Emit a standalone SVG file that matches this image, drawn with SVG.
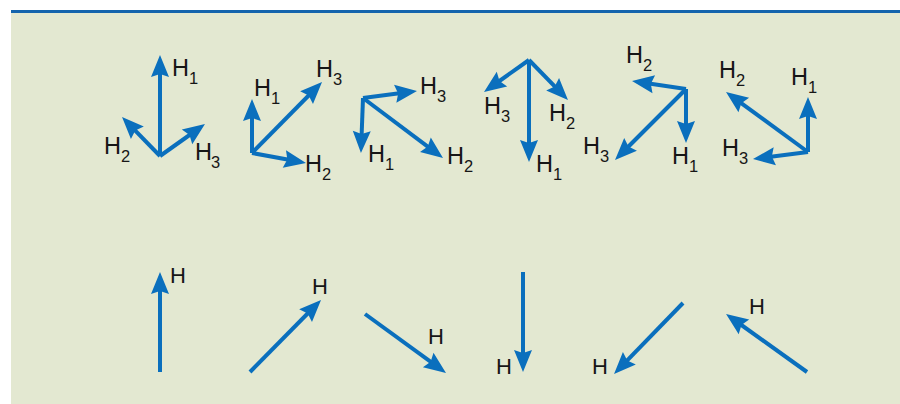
<svg xmlns="http://www.w3.org/2000/svg" width="900" height="404" viewBox="0 0 900 404">
<style>
.ar{stroke:#0a6fbd;stroke-width:4;fill:none;marker-end:url(#ah)}
.t{font-family:"Liberation Sans",Arial,sans-serif;font-size:23.5px;fill:#161616}
.s{font-size:16.5px}
.b{font-family:"Liberation Sans",Arial,sans-serif;font-size:22px;fill:#161616}
</style>
<defs>
<marker id="ah" markerUnits="userSpaceOnUse" viewBox="-12 -10 26 20" markerWidth="26" markerHeight="20" refX="0" refY="0" orient="auto">
<path d="M12,0 L-10,-9 L-7,0 L-10,9 Z" fill="#0a6fbd"/>
</marker>
</defs>
<rect x="11" y="10" width="889" height="394" fill="#e3e8d1"/>
<rect x="11" y="10" width="889" height="3" fill="#1464ad"/>

<g id="set1">
<line class="ar" x1="160" y1="156" x2="160" y2="67"/>
<line class="ar" x1="160" y1="156" x2="130.4" y2="125.6"/>
<line class="ar" x1="160" y1="156" x2="195.2" y2="131"/>
<text class="t" x="172" y="76">H<tspan class="s" x="189" y="84">1</tspan></text>
<text class="t" x="104" y="154">H<tspan class="s" x="121" y="162">2</tspan></text>
<text class="t" x="195" y="160">H<tspan class="s" x="211" y="168">3</tspan></text>
</g>

<g id="set2">
<line class="ar" x1="252" y1="153" x2="252" y2="111"/>
<line class="ar" x1="252" y1="153" x2="313.6" y2="90.5"/>
<line class="ar" x1="252" y1="153" x2="294.2" y2="160.8"/>
<text class="t" x="254" y="96">H<tspan class="s" x="271" y="104">1</tspan></text>
<text class="t" x="316" y="77">H<tspan class="s" x="333" y="85">3</tspan></text>
<text class="t" x="305" y="172">H<tspan class="s" x="322" y="180">2</tspan></text>
</g>

<g id="set3">
<line class="ar" x1="363" y1="98" x2="361.4" y2="141"/>
<line class="ar" x1="363" y1="98" x2="405.1" y2="92.5"/>
<line class="ar" x1="363" y1="98" x2="433.4" y2="150.8"/>
<text class="t" x="368" y="162">H<tspan class="s" x="385" y="170">1</tspan></text>
<text class="t" x="420" y="94">H<tspan class="s" x="437" y="102">3</tspan></text>
<text class="t" x="447" y="164">H<tspan class="s" x="464" y="172">2</tspan></text>
</g>

<g id="set4">
<line class="ar" x1="529" y1="60" x2="529" y2="150"/>
<line class="ar" x1="529" y1="60" x2="493.8" y2="85"/>
<line class="ar" x1="529" y1="60" x2="559.6" y2="91.4"/>
<text class="t" x="484" y="114">H<tspan class="s" x="501" y="122">3</tspan></text>
<text class="t" x="549" y="121">H<tspan class="s" x="566" y="129">2</tspan></text>
<text class="t" x="536" y="172">H<tspan class="s" x="553" y="180">1</tspan></text>
</g>

<g id="set5">
<line class="ar" x1="686" y1="89" x2="686" y2="131"/>
<line class="ar" x1="686" y1="89" x2="643.9" y2="82.8"/>
<line class="ar" x1="686" y1="89" x2="623.5" y2="151.5"/>
<text class="t" x="626" y="63">H<tspan class="s" x="643" y="71">2</tspan></text>
<text class="t" x="583" y="154">H<tspan class="s" x="600" y="162">3</tspan></text>
<text class="t" x="672" y="164">H<tspan class="s" x="689" y="172">1</tspan></text>
</g>

<g id="set6">
<line class="ar" x1="808" y1="152" x2="808" y2="109"/>
<line class="ar" x1="808" y1="152" x2="735.7" y2="99.1"/>
<line class="ar" x1="808" y1="152" x2="764.9" y2="157.5"/>
<text class="t" x="719" y="78">H<tspan class="s" x="736" y="86">2</tspan></text>
<text class="t" x="791" y="85">H<tspan class="s" x="808" y="93">1</tspan></text>
<text class="t" x="722" y="156">H<tspan class="s" x="739" y="164">3</tspan></text>
</g>

<g id="single1">
<line class="ar" x1="160" y1="372" x2="160" y2="284"/>
<text class="b" x="170" y="283">H</text>
</g>
<g id="single2">
<line class="ar" x1="250" y1="372" x2="312.6" y2="308.5"/>
<text class="b" x="312" y="294">H</text>
</g>
<g id="single3">
<line class="ar" x1="365" y1="314" x2="436.3" y2="365.9"/>
<text class="b" x="428" y="344">H</text>
</g>
<g id="single4">
<line class="ar" x1="523" y1="272" x2="523" y2="360"/>
<text class="b" x="496" y="374">H</text>
</g>
<g id="single5">
<line class="ar" x1="683" y1="303" x2="622.4" y2="365.4"/>
<text class="b" x="592" y="374">H</text>
</g>
<g id="single6">
<line class="ar" x1="807" y1="372" x2="735.8" y2="321"/>
<text class="b" x="749" y="314">H</text>
</g>
</svg>
